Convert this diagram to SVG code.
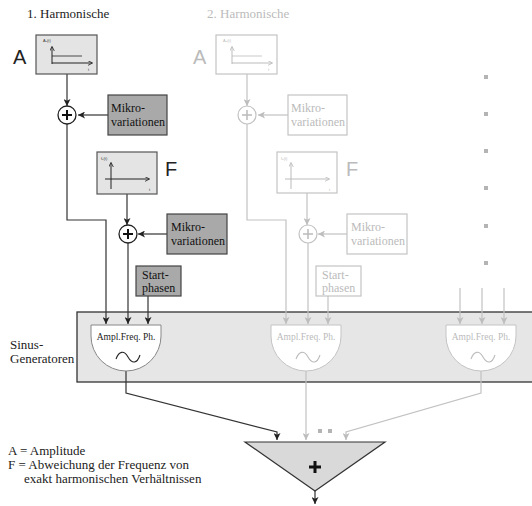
<svg xmlns="http://www.w3.org/2000/svg" width="532" height="506" viewBox="0 0 532 506">
<defs>
<style>
.t{font-family:"Liberation Serif","Times New Roman",serif;font-size:13px;fill:#222}
.tg{font-family:"Liberation Serif","Times New Roman",serif;font-size:13px;fill:#bbb}
.s{font-family:"Liberation Serif","Times New Roman",serif;font-size:12px}
.big{font-family:"Liberation Sans",Arial,sans-serif;font-size:20px}
.tiny{font-family:"Liberation Sans",Arial,sans-serif;font-size:4px}
.gen{font-family:"Liberation Serif","Times New Roman",serif;font-size:9.5px;text-anchor:middle}
.dk{stroke:#333;fill:none;stroke-width:1.2}
.gr{stroke:#c2c2c2;fill:none;stroke-width:1.2}
.boxA{fill:#e4e4e4;stroke:#555;stroke-width:1.2}
.boxM{fill:#a9a9a9;stroke:#444;stroke-width:1.2}
.boxG{fill:#fff;stroke:#c4c4c4;stroke-width:1.2}
.dot{fill:#b4b4b4}
</style>
<marker id="ad" viewBox="0 0 8 8" refX="8" refY="4" markerWidth="7" markerHeight="7" orient="auto" markerUnits="userSpaceOnUse"><path d="M0,0 L8,4 L0,8 L2,4 z" fill="#222"/></marker>
<marker id="ag" viewBox="0 0 8 8" refX="8" refY="4" markerWidth="7" markerHeight="7" orient="auto" markerUnits="userSpaceOnUse"><path d="M0,0 L8,4 L0,8 L2,4 z" fill="#bdbdbd"/></marker>
<marker id="sd" viewBox="0 0 8 8" refX="7" refY="4" markerWidth="5" markerHeight="5" orient="auto" markerUnits="userSpaceOnUse"><path d="M0,0 L8,4 L0,8" fill="none" stroke="#222" stroke-width="1.3"/></marker>
<marker id="sg" viewBox="0 0 8 8" refX="7" refY="4" markerWidth="5" markerHeight="5" orient="auto" markerUnits="userSpaceOnUse"><path d="M0,0 L8,4 L0,8" fill="none" stroke="#bbb" stroke-width="1.3"/></marker>
</defs>
<rect width="532" height="506" fill="#fff"/>

<!-- titles -->
<text class="t" x="27" y="18">1. Harmonische</text>
<text class="tg" x="207" y="18">2. Harmonische</text>

<!-- panel -->
<g id="panel">
<rect x="77" y="312" width="470" height="70" fill="#e6e6e6" stroke="#333" stroke-width="1.3"/>
<text class="t" x="10" y="349">Sinus-</text>
<text class="t" x="10" y="363">Generatoren</text>
</g>

<!-- connectors -->
<g id="connectors">
<path class="dk" d="M67,74 V106" marker-end="url(#ad)"/>
<path class="dk" d="M108,115 H78" marker-end="url(#ad)"/>
<path class="dk" d="M67,124 V220 H106 V324" marker-end="url(#ad)"/>
<path class="dk" d="M127,194 V225" marker-end="url(#ad)"/>
<path class="dk" d="M167,234 H138" marker-end="url(#ad)"/>
<path class="dk" d="M128,243 V324" marker-end="url(#ad)"/>
<path class="dk" d="M148,296 V324" marker-end="url(#ad)"/>
<path class="gr" d="M247,74 V106" marker-end="url(#ag)"/>
<path class="gr" d="M288,115 H258" marker-end="url(#ag)"/>
<path class="gr" d="M247,124 V220 H286 V324" marker-end="url(#ag)"/>
<path class="gr" d="M307,193 V225" marker-end="url(#ag)"/>
<path class="gr" d="M347,234 H318" marker-end="url(#ag)"/>
<path class="gr" d="M308,243 V324" marker-end="url(#ag)"/>
<path class="gr" d="M328,296 V324" marker-end="url(#ag)"/>
<path class="gr" d="M460,288 V324" marker-end="url(#ag)"/>
<path class="gr" d="M482,288 V324" marker-end="url(#ag)"/>
<path class="gr" d="M504,288 V324" marker-end="url(#ag)"/>
<path class="dk" d="M126,371 V393 L277,432 V440" marker-end="url(#ad)"/>
<path class="gr" d="M306,371 V440" marker-end="url(#ag)"/>
<path class="gr" d="M481,371 V393 L346,432 V440" marker-end="url(#ag)"/>
<path class="dk" d="M315,491 V504" marker-end="url(#ad)"/>
</g>

<!-- harmonic 1 -->
<g id="A1">
<text class="big" x="13" y="64" fill="#222">A</text>
<rect class="boxA" x="36" y="35" width="61" height="39"/>
<path d="M52,64 V47" fill="none" stroke="#222" stroke-width="1" marker-end="url(#sd)"/>
<path d="M52,56 H82" stroke="#222" stroke-width="0.8"/>
<path d="M52,63 H92" fill="none" stroke="#222" stroke-width="1" marker-end="url(#sd)"/>
<text class="tiny" x="43" y="42" fill="#333">A₁(t)</text>
<text class="tiny" x="88" y="71" fill="#333">t</text>
</g>
<g id="sum1">
<circle cx="67" cy="115" r="9" fill="#fff" stroke="#222" stroke-width="1.3"/>
<path d="M62,115 H72 M67,110 V120" stroke="#111" stroke-width="2"/>
</g>
<g id="mikro1">
<rect class="boxM" x="108" y="95" width="59" height="40"/>
<text class="s" x="111" y="112" fill="#111">Mikro-</text>
<text class="s" x="111" y="126" fill="#111">variationen</text>
</g>
<g id="F1">
<text class="big" x="165" y="176" fill="#222">F</text>
<rect class="boxA" x="97" y="152" width="60" height="42"/>
<path d="M111,189 V163" fill="none" stroke="#222" stroke-width="1" marker-end="url(#sd)"/>
<path d="M105,179 H149" fill="none" stroke="#222" stroke-width="1" marker-end="url(#sd)"/>
<text class="tiny" x="101" y="160" fill="#333">f₁(t)</text>
<text class="tiny" x="149" y="191" fill="#333">t</text>
</g>
<g id="sum2">
<circle cx="128" cy="234" r="9" fill="#fff" stroke="#222" stroke-width="1.3"/>
<path d="M123,234 H133 M128,229 V239" stroke="#111" stroke-width="2"/>
</g>
<g id="mikro2">
<rect class="boxM" x="167" y="214" width="60" height="40"/>
<text class="s" x="171" y="231" fill="#111">Mikro-</text>
<text class="s" x="171" y="245" fill="#111">variationen</text>
</g>
<g id="start1">
<rect class="boxM" x="136" y="266" width="45" height="30"/>
<text class="s" x="142" y="279" fill="#111">Start-</text>
<text class="s" x="142" y="292" fill="#111">phasen</text>
</g>
<g id="gen1">
<path d="M91,325 H161 V336 A35,35 0 0 1 91,336 Z" fill="#fff" stroke="#888" stroke-width="1"/>
<text class="gen" x="126" y="340" fill="#222">Ampl.Freq. Ph.</text>
<path d="M116,359 C119,351 124,350 128,357 C132,364 137,364 140,355" fill="none" stroke="#222" stroke-width="1.1"/>
</g>

<!-- harmonic 2 -->
<g id="A2">
<text class="big" x="193" y="64" fill="#bbb">A</text>
<rect class="boxG" x="216" y="35" width="61" height="39"/>
<path d="M232,64 V47" fill="none" stroke="#bbb" stroke-width="1" marker-end="url(#sg)"/>
<path d="M232,56 H262" stroke="#bbb" stroke-width="0.8"/>
<path d="M232,63 H272" fill="none" stroke="#bbb" stroke-width="1" marker-end="url(#sg)"/>
<text class="tiny" x="223" y="42" fill="#bbb">A₂(t)</text>
<text class="tiny" x="268" y="71" fill="#bbb">t</text>
</g>
<g id="sum3">
<circle cx="247" cy="115" r="9" fill="#fff" stroke="#c2c2c2" stroke-width="1.2"/>
<path d="M242,115 H252 M247,110 V120" stroke="#bbb" stroke-width="1.5"/>
</g>
<g id="mikro3">
<rect class="boxG" x="288" y="95" width="59" height="40"/>
<text class="s" x="291" y="112" fill="#bbb">Mikro-</text>
<text class="s" x="291" y="126" fill="#bbb">variationen</text>
</g>
<g id="F2">
<text class="big" x="346" y="176" fill="#bbb">F</text>
<rect class="boxG" x="277" y="152" width="60" height="41"/>
<path d="M291,189 V163" fill="none" stroke="#bbb" stroke-width="1" marker-end="url(#sg)"/>
<path d="M285,179 H329" fill="none" stroke="#bbb" stroke-width="1" marker-end="url(#sg)"/>
<text class="tiny" x="281" y="160" fill="#bbb">f₂(t)</text>
<text class="tiny" x="329" y="191" fill="#bbb">t</text>
</g>
<g id="sum4">
<circle cx="308" cy="234" r="9" fill="#fff" stroke="#c2c2c2" stroke-width="1.2"/>
<path d="M303,234 H313 M308,229 V239" stroke="#bbb" stroke-width="1.5"/>
</g>
<g id="mikro4">
<rect class="boxG" x="347" y="214" width="60" height="40"/>
<text class="s" x="351" y="231" fill="#bbb">Mikro-</text>
<text class="s" x="351" y="245" fill="#bbb">variationen</text>
</g>
<g id="start2">
<rect class="boxG" x="316" y="266" width="45" height="30"/>
<text class="s" x="322" y="279" fill="#bbb">Start-</text>
<text class="s" x="322" y="292" fill="#bbb">phasen</text>
</g>
<g id="gen2">
<path d="M271,325 H341 V336 A35,35 0 0 1 271,336 Z" fill="#fff" stroke="#c4c4c4" stroke-width="1"/>
<text class="gen" x="306" y="340" fill="#bbb">Ampl.Freq. Ph.</text>
<path d="M296,359 C299,351 304,350 308,357 C312,364 317,364 320,355" fill="none" stroke="#bbb" stroke-width="1.1"/>
</g>

<!-- further harmonics -->
<g id="dots">
<rect class="dot" x="484" y="75" width="4" height="4"/>
<rect class="dot" x="484" y="112" width="4" height="4"/>
<rect class="dot" x="484" y="149" width="4" height="4"/>
<rect class="dot" x="484" y="186" width="4" height="4"/>
<rect class="dot" x="484" y="224" width="4" height="4"/>
<rect class="dot" x="484" y="261" width="4" height="4"/>
<rect class="dot" x="318" y="429" width="4" height="4"/>
<rect class="dot" x="328" y="429" width="4" height="4"/>
</g>
<g id="gen3">
<path d="M446,325 H516 V336 A35,35 0 0 1 446,336 Z" fill="#fff" stroke="#c4c4c4" stroke-width="1"/>
<text class="gen" x="481" y="340" fill="#bbb">Ampl.Freq. Ph.</text>
<path d="M471,359 C474,351 479,350 483,357 C487,364 492,364 495,355" fill="none" stroke="#bbb" stroke-width="1.1"/>
</g>

<!-- summing triangle -->
<g id="sum">
<path d="M245,442 H385 L315,491 Z" fill="#d9d9d9" stroke="#333" stroke-width="1.2"/>
<path d="M309,467 H321 M315,461 V473" stroke="#111" stroke-width="3"/>
</g>

<!-- legend -->
<g id="legend">
<text class="t" x="8" y="455">A = Amplitude</text>
<text class="t" x="8" y="469">F = Abweichung der Frequenz von</text>
<text class="t" x="24" y="483">exakt harmonischen Verhältnissen</text>
</g>
</svg>
